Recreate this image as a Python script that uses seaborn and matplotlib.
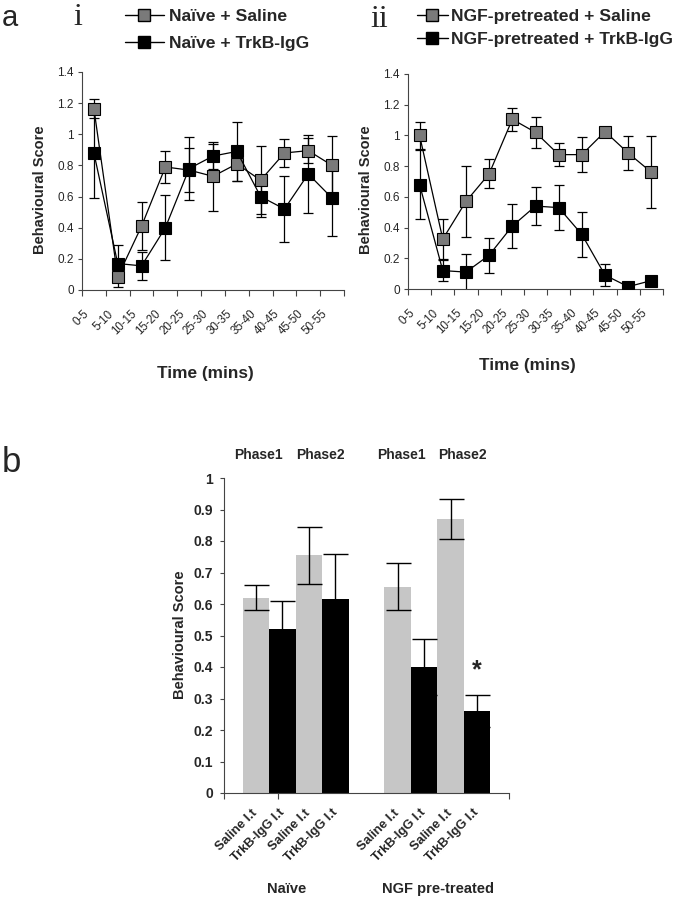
import numpy as np
import pandas as pd
import matplotlib
matplotlib.use('Agg')
import matplotlib.pyplot as plt
import matplotlib.transforms as mtrans
import seaborn as sns
from matplotlib.lines import Line2D
from matplotlib.ticker import FuncFormatter

sns.set_theme(style='white')
plt.rcParams['font.family'] = ['Liberation Sans', 'DejaVu Sans']

# ---------------- data ----------------
time_labels = ['0-5', '5-10', '10-15', '15-20', '20-25', '25-30',
               '30-35', '35-40', '40-45', '45-50', '50-55']

naive_saline = [1.165, 0.085, 0.41, 0.79, 0.77, 0.73, 0.81, 0.705, 0.88, 0.895, 0.80]
naive_saline_err = [0.06, 0.065, 0.155, 0.105, 0.14, 0.22, 0.11, 0.22, 0.09, 0.08, 0.19]
naive_trkb = [0.88, 0.17, 0.155, 0.40, 0.78, 0.86, 0.89, 0.60, 0.52, 0.745, 0.59]
naive_trkb_err = [0.29, 0.12, 0.09, 0.21, 0.20, 0.08, 0.19, 0.13, 0.21, 0.25, 0.24]

ngf_saline = [1.00, 0.325, 0.57, 0.75, 1.105, 1.02, 0.875, 0.875, 1.025, 0.885, 0.76]
ngf_saline_err = [0.09, 0.13, 0.23, 0.095, 0.075, 0.10, 0.075, 0.115, 0.02, 0.11, 0.235]
ngf_trkb = [0.68, 0.12, 0.11, 0.22, 0.41, 0.54, 0.53, 0.355, 0.09, 0.015, 0.055]
ngf_trkb_err = [0.225, 0.07, 0.12, 0.115, 0.145, 0.125, 0.145, 0.145, 0.07, 0.0, 0.0]

bar_labels = ['Saline I.t', 'TrkB-IgG I.t', 'Saline I.t', 'TrkB-IgG I.t',
              'Saline I.t', 'TrkB-IgG I.t', 'Saline I.t', 'TrkB-IgG I.t']
bar_kind = ['Saline', 'TrkB', 'Saline', 'TrkB', 'Saline', 'TrkB', 'Saline', 'TrkB']
bar_values = [0.62, 0.52, 0.755, 0.615, 0.655, 0.40, 0.87, 0.26]
bar_err = [0.04, 0.09, 0.09, 0.145, 0.075, 0.09, 0.063, 0.05]
phase_labels = ['Phase1', 'Phase2', 'Phase1', 'Phase2']
group_labels = ['Naïve', 'NGF pre-treated']

legend_i = ['Naïve + Saline', 'Naïve + TrkB-IgG']
legend_ii = ['NGF-pretreated + Saline', 'NGF-pretreated + TrkB-IgG']

# ---------------- layout ----------------
W, H = 673, 900
fig = plt.figure(figsize=(W / 100, H / 100), dpi=100)


def px(l, t, r, b):
    return [l / W, 1 - b / H, (r - l) / W, (b - t) / H]


ax1 = fig.add_axes(px(82, 72, 344, 290))
ax2 = fig.add_axes(px(408, 74, 663, 289))
ax3 = fig.add_axes(px(224, 478, 509, 793))

GRAY_MK = '#7a7a7a'
fmt_g = FuncFormatter(lambda v, p: f'{v:g}')


def style_axes(ax):
    for s in ['top', 'right']:
        ax.spines[s].set_visible(False)
    for s in ['left', 'bottom']:
        ax.spines[s].set_color('#444444')
        ax.spines[s].set_linewidth(0.8)


def line_panel(ax, s_vals, s_err, t_vals, t_err, xlab_pos, ylab_pos):
    x = np.arange(len(time_labels))
    ax.errorbar(x, s_vals, yerr=s_err, fmt='none', ecolor='black',
                elinewidth=0.9, capsize=3.5, capthick=0.9, zorder=2)
    ax.errorbar(x, t_vals, yerr=t_err, fmt='none', ecolor='black',
                elinewidth=0.9, capsize=3.5, capthick=0.9, zorder=2)
    df_s = pd.DataFrame({'t': x, 'score': s_vals})
    df_t = pd.DataFrame({'t': x, 'score': t_vals})
    sns.lineplot(data=df_s, x='t', y='score', ax=ax, color='black', lw=0.9,
                 marker='s', markersize=9, markerfacecolor=GRAY_MK,
                 markeredgecolor='black', markeredgewidth=0.8, zorder=3)
    sns.lineplot(data=df_t, x='t', y='score', ax=ax, color='black', lw=0.9,
                 marker='s', markersize=9, markerfacecolor='black',
                 markeredgecolor='black', markeredgewidth=0.8, zorder=3)
    ax.set_xlim(-0.5, len(time_labels) - 0.5)
    ax.set_ylim(0, 1.4)
    ax.set_yticks(np.arange(0, 1.41, 0.2))
    ax.yaxis.set_major_formatter(fmt_g)
    ax.set_xticks(np.arange(-0.5, len(time_labels)), labels=[])
    ax.set_xticks(x, labels=time_labels, minor=True)
    ax.tick_params(axis='x', which='major', direction='out', length=4,
                   width=0.8, color='#444444', bottom=True)
    ax.tick_params(axis='x', which='minor', length=0, pad=16, labelsize=8.3)
    ax.tick_params(axis='y', direction='out', length=3, width=0.8,
                   color='#444444', left=True, labelsize=8.5, pad=3)
    off = mtrans.ScaledTranslation(-6.5 / 100, 0, fig.dpi_scale_trans)
    for lab in ax.get_xticklabels(minor=True):
        lab.set_rotation(45)
        lab.set_ha('right')
        lab.set_va('center')
        lab.set_rotation_mode('anchor')
        lab.set_transform(lab.get_transform() + off)
    ax.set_xlabel('Time (mins)', fontweight='bold', fontsize=12.4)
    ax.xaxis.set_label_coords(*xlab_pos)
    ax.set_ylabel('Behavioural Score', fontweight='bold', fontsize=10.5)
    ax.yaxis.set_label_coords(*ylab_pos)
    style_axes(ax)


line_panel(ax1, naive_saline, naive_saline_err, naive_trkb, naive_trkb_err,
           ((205 - 82) / 262, -0.35), (-0.134, (290 - 190) / 218))
line_panel(ax2, ngf_saline, ngf_saline_err, ngf_trkb, ngf_trkb_err,
           ((527 - 408) / 255, -0.32), (-0.137, (289 - 190) / 215))


def make_handles():
    return [Line2D([], [], color='black', lw=1, marker='s', markersize=8,
                   markerfacecolor=GRAY_MK, markeredgecolor='black'),
            Line2D([], [], color='black', lw=1, marker='s', markersize=8,
                   markerfacecolor='black', markeredgecolor='black')]


fig.legend(make_handles(), legend_i, loc='upper left',
           bbox_to_anchor=(125 / W, 1 - 9 / H), frameon=False,
           prop=dict(weight='bold', size=12.6), handlelength=2.2,
           handletextpad=0.3, labelspacing=0.68, borderpad=0, borderaxespad=0)
fig.legend(make_handles(), legend_ii, loc='upper left',
           bbox_to_anchor=(417 / W, 1 - 9 / H), frameon=False,
           prop=dict(weight='bold', size=12.6), handlelength=1.75,
           handletextpad=0.2, labelspacing=0.45, borderpad=0, borderaxespad=0)

# ---------------- bar chart ----------------
bar_pos = [1.2, 2.2, 3.2, 4.2, 6.55, 7.55, 8.55, 9.55]
df_b = pd.DataFrame({'pos': bar_pos, 'value': bar_values, 'kind': bar_kind})
sns.barplot(data=df_b, x='pos', y='value', hue='kind',
            palette={'Saline': '#c6c6c6', 'TrkB': 'black'},
            native_scale=True, dodge=False, width=1.0, errorbar=None,
            legend=False, ax=ax3, saturation=1, linewidth=0, zorder=2)
ax3.errorbar(bar_pos, bar_values, yerr=bar_err, fmt='none', ecolor='black',
             elinewidth=1.0, capsize=9, capthick=1.0, zorder=3)
ax3.set_xlim(0, 10.75)
ax3.set_ylim(0, 1)
ax3.set_yticks(np.arange(0, 1.01, 0.1))
ax3.yaxis.set_major_formatter(fmt_g)
ax3.tick_params(axis='y', direction='out', length=3, width=0.8,
                color='#444444', left=True, labelsize=10, pad=5)
for lab in ax3.get_yticklabels():
    lab.set_fontweight('bold')
ax3.set_xticks([0, 2.03, 10.75], labels=[])
ax3.tick_params(axis='x', which='major', direction='out', length=4,
                width=0.8, color='#444444', bottom=True)
ax3.set_xticks(bar_pos, labels=bar_labels, minor=True)
ax3.tick_params(axis='x', which='minor', length=0, pad=13, labelsize=9.3)
for lab in ax3.get_xticklabels(minor=True):
    lab.set_rotation(45)
    lab.set_ha('right')
    lab.set_va('center')
    lab.set_rotation_mode('anchor')
    lab.set_fontweight('bold')
ax3.set_xlabel('')
ax3.set_ylabel('Behavioural Score', fontweight='bold', fontsize=10.5)
ax3.yaxis.set_label_coords((187 - 224) / 285, (793 - 635) / 315)
style_axes(ax3)

for txt, xc in zip(phase_labels, [258, 320, 401, 462]):
    fig.text(xc / W, 1 - 455 / H, txt, ha='center', va='center',
             fontweight='bold', fontsize=10)
for txt, xc in zip(group_labels, [287, 438]):
    fig.text(xc / W, 1 - 889 / H, txt, ha='center', va='center',
             fontweight='bold', fontsize=10.5)
fig.text(477 / W, 1 - 670 / H, '*', ha='center', va='center',
         fontweight='bold', fontsize=18)

# ---------------- panel letters ----------------
fig.text(2 / W, 1 - 26 / H, 'a', ha='left', va='baseline', fontsize=21)
fig.text(2 / W, 1 - 472 / H, 'b', ha='left', va='baseline', fontsize=25)
fig.text(73 / W, 1 - 25 / H, 'i', ha='left', va='baseline', fontsize=23,
         family=['Liberation Serif', 'DejaVu Serif'])
fig.text(370 / W, 1 - 27 / H, 'ii', ha='left', va='baseline', fontsize=23,
         family=['Liberation Serif', 'DejaVu Serif'])

fig.savefig('out.png', dpi=100)
